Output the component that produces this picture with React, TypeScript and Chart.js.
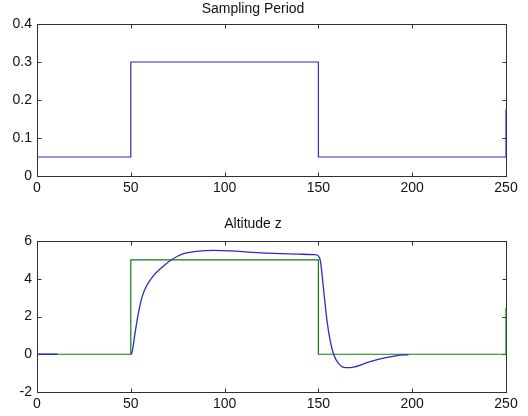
import React, { useEffect, useRef } from "react";
import { Chart, registerables } from "chart.js";

Chart.register(...registerables);

// Sampling Period (step breakpoints)
const samplingT = [0, 50, 150, 250, 250];
const samplingV = [0.05, 0.3, 0.05, 0.05, 0.175];

// Altitude reference (step breakpoints)
const refT = [0, 50, 150, 250, 250];
const refV = [0, 5, 0, 0, 2.45];

// Altitude response z
const zT = [0, 11, null, 50, 50.5, 52.3, 54.1, 55.9, 58.5, 62.1, 66.5, 71.9, 78.1, 85.2, 94.1, 103, 115, 130, 140, 148, 150, 151, 151.9, 153.2, 154.6, 156.3, 158.1, 160.8, 164.4, 168.8, 175.9, 184.8, 193.7, 198];
const zV = [0, 0, null, 0, 0.05, 1.15, 2.2, 3.0, 3.64, 4.17, 4.6, 5.02, 5.33, 5.45, 5.5, 5.48, 5.4, 5.33, 5.3, 5.28, 5.2, 4.97, 4.26, 3.02, 1.77, 0.71, 0.0, -0.5, -0.71, -0.68, -0.45, -0.21, -0.05, -0.03];

const xTicks = [0, 50, 100, 150, 200, 250];
const topYTicks = [0, 0.1, 0.2, 0.3, 0.4];
const botYTicks = [-2, 0, 2, 4, 6];

const FONT = "'Liberation Sans', Arial, sans-serif";
const BLUE = "#2c2cc0";
const GREEN = "#108010";

const toPts = (t: (number | null)[], v: (number | null)[]) =>
  t.map((x, i) => ({ x: x as any, y: v[i] as any }));

const boxTicks = {
  id: "boxTicks",
  beforeDatasetsDraw(chart: any) {
    const { ctx, chartArea: a, scales } = chart;
    const xs = scales.x;
    const ys = scales.y;
    ctx.save();
    ctx.strokeStyle = "#303030";
    ctx.lineWidth = 1;
    const L = Math.round(a.left) + 0.5;
    const R = Math.round(a.right) + 0.5;
    const T = Math.round(a.top) + 0.5;
    const B = Math.round(a.bottom) + 0.5;
    ctx.strokeRect(L, T, R - L, B - T);
    const len = 4;
    ctx.beginPath();
    xs.ticks.forEach((tk: any) => {
      const px = Math.round(xs.getPixelForValue(tk.value)) + 0.5;
      ctx.moveTo(px, B);
      ctx.lineTo(px, B - len);
      ctx.moveTo(px, T);
      ctx.lineTo(px, T + len);
    });
    ys.ticks.forEach((tk: any) => {
      const py = Math.round(ys.getPixelForValue(tk.value)) + 0.5;
      ctx.moveTo(L, py);
      ctx.lineTo(L + len, py);
      ctx.moveTo(R, py);
      ctx.lineTo(R - len, py);
    });
    ctx.stroke();
    ctx.restore();
  },
};

function makeOptions(title: string, yMin: number, yMax: number, yTicks: number[], padTop: number, titlePad: any, xH: number) {
  return {
    responsive: false,
    animation: false as const,
    layout: { padding: { top: padTop, left: 0, right: 22, bottom: 0 } },
    plugins: {
      legend: { display: false },
      tooltip: { enabled: false },
      title: {
        display: true,
        text: title,
        color: "#111",
        font: { family: FONT, size: 14, weight: "normal" as const, lineHeight: 1 },
        padding: titlePad,
      },
    },
    scales: {
      x: {
        type: "linear" as const,
        min: 0,
        max: 250,
        afterBuildTicks: (s: any) => {
          s.ticks = xTicks.map((v) => ({ value: v }));
        },
        afterFit: (s: any) => {
          s.height = xH;
        },
        grid: { display: false, drawTicks: false },
        border: { display: false },
        ticks: { color: "#111", padding: 4, maxRotation: 0, autoSkip: false, font: { family: FONT, size: 14 } },
      },
      y: {
        type: "linear" as const,
        min: yMin,
        max: yMax,
        afterBuildTicks: (s: any) => {
          s.ticks = yTicks.map((v) => ({ value: v }));
        },
        afterFit: (s: any) => {
          s.width = 37;
        },
        grid: { display: false, drawTicks: false },
        border: { display: false },
        ticks: { color: "#111", padding: 5, autoSkip: false, font: { family: FONT, size: 14 } },
      },
    },
  };
}

export default function App() {
  const topRef = useRef<HTMLCanvasElement>(null);
  const botRef = useRef<HTMLCanvasElement>(null);

  useEffect(() => {
    const c1 = new Chart(topRef.current!, {
      type: "line",
      data: {
        datasets: [
          {
            data: toPts(samplingT, samplingV),
            borderColor: BLUE,
            borderWidth: 1.2,
            pointRadius: 0,
            stepped: "before",
            clip: 3,
            fill: false,
          },
        ],
      },
      options: makeOptions("Sampling Period", 0, 0.4, topYTicks, 0, { top: 2, bottom: 8 }, 24) as any,
      plugins: [boxTicks],
    });
    const c2 = new Chart(botRef.current!, {
      type: "line",
      data: {
        datasets: [
          {
            data: toPts(zT, zV),
            borderColor: BLUE,
            borderWidth: 1.3,
            pointRadius: 0,
            cubicInterpolationMode: "monotone",
            spanGaps: false,
            clip: 3,
            fill: false,
          },
          {
            data: toPts(refT, refV),
            borderColor: GREEN,
            borderWidth: 1.2,
            pointRadius: 0,
            stepped: "before",
            clip: 3,
            fill: false,
          },
        ],
      },
      options: makeOptions("Altitude z", -2, 6, botYTicks, 14, { top: 3, bottom: 10 }, 24) as any,
      plugins: [boxTicks],
    });
    return () => {
      c1.destroy();
      c2.destroy();
    };
  }, []);

  return (
    <div style={{ position: "absolute", left: 0, top: 0, width: 528, height: 416, background: "#fff" }}>
      <canvas ref={topRef} width={528} height={200} style={{ position: "absolute", left: 0, top: 0, display: "block" }} />
      <canvas ref={botRef} width={528} height={216} style={{ position: "absolute", left: 0, top: 200, display: "block" }} />
    </div>
  );
}
